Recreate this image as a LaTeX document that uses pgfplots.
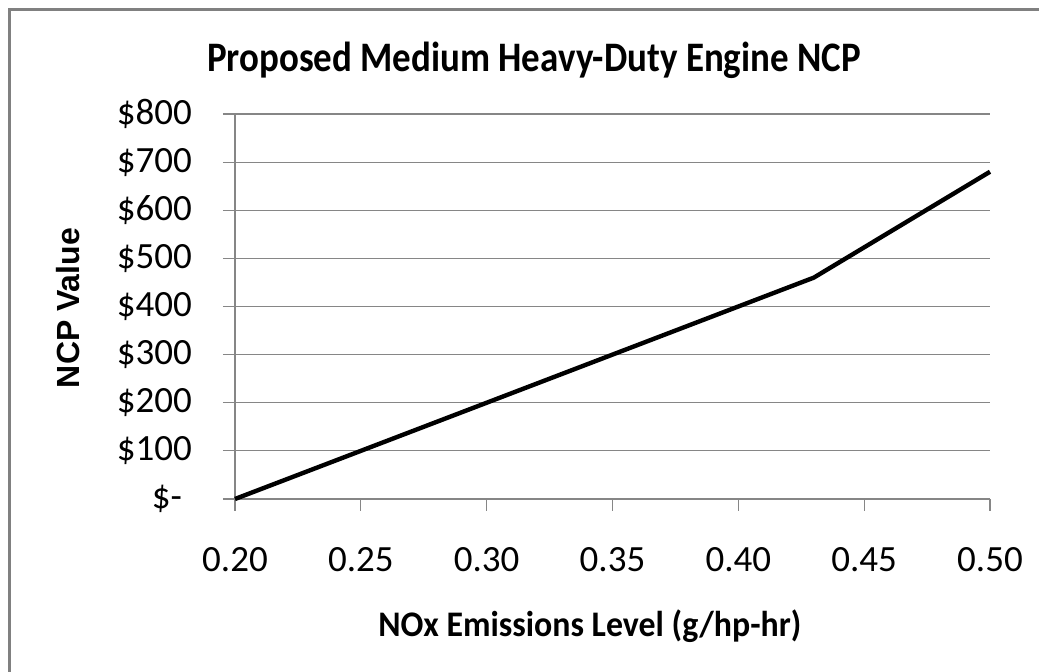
\documentclass[border=0pt]{standalone}
\usepackage{fontspec}
\setmainfont{Carlito}
\newfontfamily\titlefont{Carlito}[FakeStretch=0.88]
\newfontfamily\xlabfont{Carlito}[FakeStretch=0.94]
\newfontfamily\arialb{Liberation Sans}
\usepackage{pgfplots}
\pgfplotsset{compat=1.18}
\definecolor{gridgray}{RGB}{134,134,134}
\definecolor{framegray}{RGB}{128,128,128}
\begin{document}
\begin{tikzpicture}
\useasboundingbox (0,0) rectangle (519.5pt,336pt);
\fill[white] (0,0) rectangle (519.5pt,336pt);
\draw[framegray, line width=1.3pt] (4.7pt,0) -- (4.7pt,331.3pt) -- (519.5pt,331.3pt);
\begin{axis}[
  at={(117.5pt,86.5pt)}, anchor=south west,
  scale only axis, width=377.5pt, height=192.5pt,
  xmin=0.2, xmax=0.5, ymin=0, ymax=800,
  axis x line*=bottom, axis y line*=left,
  axis line style={gridgray, line width=0.6pt, -},
  xtick={0.20,0.25,0.30,0.35,0.40,0.45,0.50},
  xticklabels={0.20,0.25,0.30,0.35,0.40,0.45,0.50},
  ytick={0,100,200,300,400,500,600,700,800},
  yticklabels={\$-\kern 5pt\relax,\$100,\$200,\$300,\$400,\$500,\$600,\$700,\$800},
  tick align=outside, major tick length=6pt,
  tick style={gridgray, line width=0.6pt},
  ymajorgrids, grid style={gridgray, line width=0.6pt},
  clip=false,
  ticklabel style={font=\fontsize{18.5}{20}\selectfont},
  /pgf/number format/assume math mode=true,
  xticklabel style={anchor=base, yshift=-30.5pt},
  yticklabel style={anchor=east, xshift=-12pt},
  title={Proposed Medium Heavy-Duty Engine NCP},
  title style={font=\titlefont\bfseries\fontsize{21}{24}\selectfont, at={(rel axis cs:0.396,1.078)}, anchor=base},
  xlabel={NOx Emissions Level (g/hp-hr)},
  xlabel style={font=\xlabfont\bfseries\fontsize{18}{20}\selectfont, at={(rel axis cs:0.47,-0.357)}, anchor=base},
  ylabel={NCP Value},
  ylabel style={font=\arialb\bfseries\fontsize{16}{18}\selectfont, at={(rel axis cs:-0.2066,0.496)}, anchor=base, rotate=0},
]
\addplot[black, line width=2.2pt, line join=round] coordinates {
  (0.20,0) (0.43,460) (0.50,680)
};
\end{axis}
\end{tikzpicture}
\end{document}
